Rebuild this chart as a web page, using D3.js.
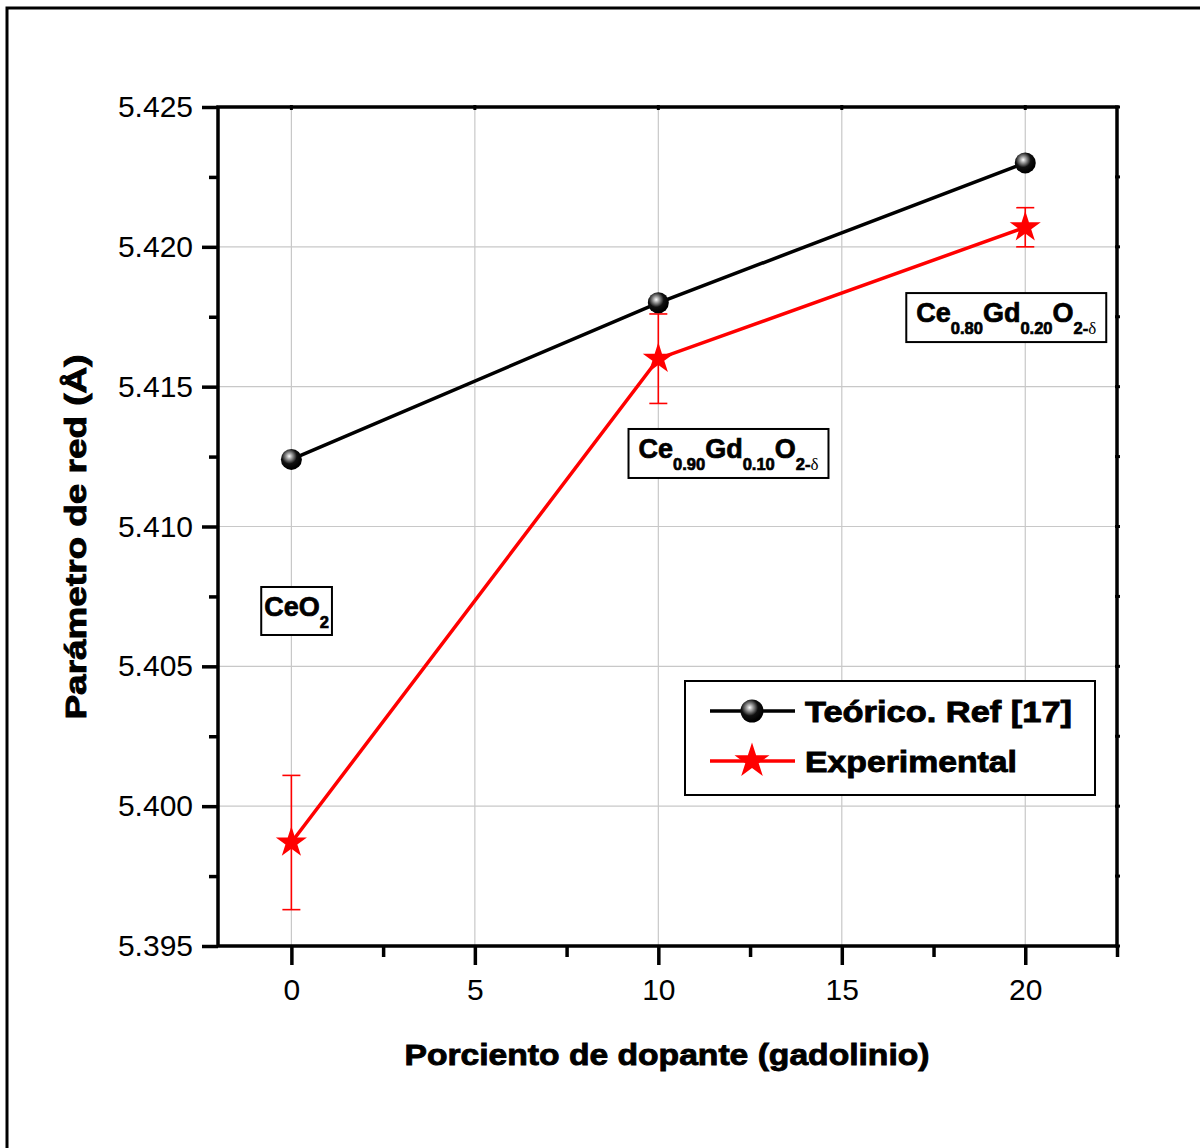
<html>
<head>
<title>Parametro de red</title>
<style>
  body { margin: 0; background: #fff; }
  text { font-family: "Liberation Sans", Arial, sans-serif; }
</style>
</head>
<body>
<svg id="container" width="1200" height="1148"></svg>
<script src="https://d3js.org/d3.v7.min.js"></script>
<script>
// data
let dopant = [0, 10, 20]
let teorico = [5.4124, 5.4180, 5.4230]
let experimental = [5.3987, 5.4160, 5.4207]
let expError = [0.0024, 0.0016, 0.0007]
let xTicks = [0, 5, 10, 15, 20]
let yTicks = [5.395, 5.400, 5.405, 5.410, 5.415, 5.420, 5.425]

// composition labels: [text parts], anchor in data units (x, y)
let labels = [
  {parts: [["Ce", 0], ["O", 0], ["2", 1]], x: -0.74, y: 5.4068, pad: 3},
  {parts: [["Ce", 0], ["0.90", 1], ["Gd", 0], ["0.10", 1], ["O", 0], ["2-δ", 1]], x: 9.46, y: 5.41245, pad: 10},
  {parts: [["Ce", 0], ["0.80", 1], ["Gd", 0], ["0.20", 1], ["O", 0], ["2-δ", 1]], x: 17.03, y: 5.41731, pad: 10}
]
let legendNames = ["Teórico. Ref [17]", "Experimental"]

let svg = d3.select("#container")

// outer frame
svg.append("rect").attr("x", 7).attr("y", 8).attr("width", 1250).attr("height", 1200)
   .attr("fill", "none").attr("stroke", "#000").attr("stroke-width", 3)

let pLeft = 218, pRight = 1117, pTop = 107, pBottom = 946

let x = d3.scaleLinear().domain([-2, 22.5]).range([pLeft, pRight])
let y = d3.scaleLinear().domain([5.395, 5.425]).range([pBottom, pTop])

// grid
svg.append("g").selectAll("line").data(xTicks).join("line")
   .attr("x1", d => x(d)).attr("x2", d => x(d)).attr("y1", pTop).attr("y2", pBottom)
   .attr("stroke", "#c8c8c8").attr("stroke-width", 1.2)
svg.append("g").selectAll("line").data(yTicks).join("line")
   .attr("x1", pLeft).attr("x2", pRight).attr("y1", d => y(d)).attr("y2", d => y(d))
   .attr("stroke", "#c8c8c8").attr("stroke-width", 1.2)

// axes
let xMinor = [2.5, 7.5, 12.5, 17.5, 22.5]
let yMinor = [5.3975, 5.4025, 5.4075, 5.4125, 5.4175, 5.4225]

svg.append("g").attr("transform", `translate(0,${pBottom})`)
   .call(d3.axisBottom(x).tickValues(xTicks).tickSize(19).tickPadding(14).tickFormat(d3.format("d")))
svg.append("g").attr("transform", `translate(0,${pBottom})`)
   .call(d3.axisBottom(x).tickValues(xMinor).tickSize(11).tickFormat(""))
svg.append("g").attr("transform", `translate(${pLeft},0)`)
   .call(d3.axisLeft(y).tickValues(yTicks).tickSize(16).tickPadding(9).tickFormat(d3.format(".3f")))
svg.append("g").attr("transform", `translate(${pLeft},0)`)
   .call(d3.axisLeft(y).tickValues(yMinor).tickSize(9).tickFormat(""))

svg.selectAll(".domain").remove()
svg.selectAll(".tick line").attr("stroke-width", 3.5)
svg.selectAll(".tick text").attr("font-size", 30).attr("fill", "#000")
   .style("font-family", "'Liberation Sans', Arial, sans-serif")

// frame of plot
svg.append("rect").attr("x", pLeft).attr("y", pTop).attr("width", pRight - pLeft).attr("height", pBottom - pTop)
   .attr("fill", "none").attr("stroke", "#000").attr("stroke-width", 3.5)

// top and right small ticks
svg.append("g").selectAll("line").data(xTicks).join("line")
   .attr("x1", d => x(d)).attr("x2", d => x(d)).attr("y1", pTop - 2).attr("y2", pTop + 3)
   .attr("stroke", "#000").attr("stroke-width", 3)
svg.append("g").selectAll("line").data(yTicks.concat(yMinor)).join("line")
   .attr("x1", pRight - 2).attr("x2", pRight + 3).attr("y1", d => y(d)).attr("y2", d => y(d))
   .attr("stroke", "#000").attr("stroke-width", 3)

// axis titles
svg.append("text").attr("x", 667).attr("y", 1065).attr("text-anchor", "middle")
   .attr("font-size", 30).attr("font-weight", "bold").attr("stroke", "#000").attr("stroke-width", 0.9)
   .attr("textLength", 525).attr("lengthAdjust", "spacingAndGlyphs")
   .text("Porciento de dopante (gadolinio)")
svg.append("text").attr("transform", "translate(86,537) rotate(-90)").attr("text-anchor", "middle")
   .attr("font-size", 30).attr("font-weight", "bold").attr("stroke", "#000").attr("stroke-width", 0.9)
   .attr("textLength", 365).attr("lengthAdjust", "spacingAndGlyphs")
   .text("Parámetro de red (Å)")

// gradient for sphere markers
let defs = svg.append("defs")
let grad = defs.append("radialGradient").attr("id", "ball").attr("cx", "40%").attr("cy", "35%").attr("r", "60%")
grad.append("stop").attr("offset", "0%").attr("stop-color", "#ffffff")
grad.append("stop").attr("offset", "25%").attr("stop-color", "#9a9a9a")
grad.append("stop").attr("offset", "60%").attr("stop-color", "#111")
grad.append("stop").attr("offset", "100%").attr("stop-color", "#000")

let line = d3.line().x(d => x(d[0])).y(d => y(d[1]))
let teoPts = dopant.map((d, i) => [d, teorico[i]])
let expPts = dopant.map((d, i) => [d, experimental[i]])

// error bars
let eb = svg.append("g").attr("stroke", "#ff0000").attr("stroke-width", 1.6)
dopant.forEach((d, i) => {
  let x0 = x(d), y1 = y(experimental[i] + expError[i]), y2 = y(experimental[i] - expError[i])
  eb.append("line").attr("x1", x0).attr("x2", x0).attr("y1", y1).attr("y2", y2)
  eb.append("line").attr("x1", x0 - 9).attr("x2", x0 + 9).attr("y1", y1).attr("y2", y1)
  eb.append("line").attr("x1", x0 - 9).attr("x2", x0 + 9).attr("y1", y2).attr("y2", y2)
})

svg.append("path").attr("d", line(teoPts)).attr("fill", "none").attr("stroke", "#000").attr("stroke-width", 3.5)
svg.append("path").attr("d", line(expPts)).attr("fill", "none").attr("stroke", "#ff0000").attr("stroke-width", 3.5)

let star = d3.symbol().type(d3.symbolStar).size(300)

svg.append("g").selectAll("circle").data(teoPts).join("circle")
   .attr("cx", d => x(d[0])).attr("cy", d => y(d[1])).attr("r", 10.5).attr("fill", "url(#ball)")
svg.append("g").selectAll("path").data(expPts).join("path")
   .attr("d", star).attr("transform", d => `translate(${x(d[0])},${y(d[1])})`).attr("fill", "#ff0000")

// composition labels
labels.forEach(lb => {
  let g = svg.append("g")
  let t = g.append("text").attr("x", x(lb.x)).attr("y", y(lb.y))
     .attr("font-weight", "bold").attr("font-size", 27).attr("stroke", "#000").attr("stroke-width", 0.7)
  let prevSub = 0
  lb.parts.forEach(p => {
    let dy = (p[1] - prevSub) * 12
    prevSub = p[1]
    let ts = t.append("tspan").attr("dy", dy).attr("font-size", p[1] ? 16.5 : 27)
    if (p[0].includes("δ")) {
      ts.text("2-")
      t.append("tspan").attr("font-size", 17).attr("font-weight", "normal").attr("stroke-width", 0)
       .style("font-family", "'Liberation Serif', serif").text("δ")
    } else {
      ts.text(p[0])
    }
  })
  let bb = t.node().getBBox()
  g.insert("rect", "text").attr("x", bb.x - lb.pad).attr("y", bb.y - 5)
   .attr("width", bb.width + 2 * lb.pad).attr("height", bb.height + 9)
   .attr("fill", "#fff").attr("stroke", "#000").attr("stroke-width", 2)
})

// legend
let lg = svg.append("g").attr("transform", "translate(685,681)")
lg.append("rect").attr("width", 410).attr("height", 114).attr("fill", "#fff")
  .attr("stroke", "#000").attr("stroke-width", 2)
legendNames.forEach((name, i) => {
  let cy = 30 + i * 50
  let col = i === 0 ? "#000" : "#ff0000"
  lg.append("line").attr("x1", 25).attr("x2", 110).attr("y1", cy).attr("y2", cy)
    .attr("stroke", col).attr("stroke-width", 3.5)
  if (i === 0) {
    lg.append("circle").attr("cx", 67).attr("cy", cy).attr("r", 11.5).attr("fill", "url(#ball)")
  } else {
    lg.append("path").attr("d", d3.symbol().type(d3.symbolStar).size(380))
      .attr("transform", `translate(67,${cy})`).attr("fill", "#ff0000")
  }
  lg.append("text").attr("x", 120).attr("y", cy + 11).attr("font-size", 30).attr("font-weight", "bold")
    .attr("stroke", "#000").attr("stroke-width", 0.9)
    .attr("textLength", i === 0 ? 267 : 212).attr("lengthAdjust", "spacingAndGlyphs")
    .text(name)
})
</script>
</body>
</html>
